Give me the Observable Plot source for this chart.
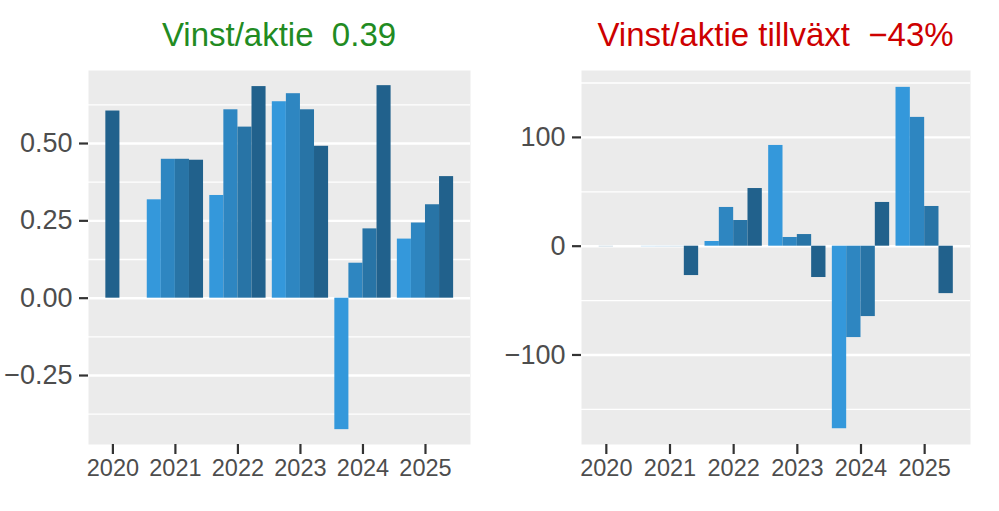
<!DOCTYPE html>
<html><head><meta charset="utf-8">
<script src="https://cdn.jsdelivr.net/npm/d3@7"></script>
<script src="https://cdn.jsdelivr.net/npm/@observablehq/plot@0.6"></script>
<style>
body{margin:0;background:#fff;font-family:"Liberation Sans",Arial,sans-serif;}
#wrap{position:relative;width:999px;height:511px;overflow:hidden;background:#fff;}
.panel{position:absolute;top:0;}
.title{position:absolute;top:18px;font-size:33px;line-height:33px;text-align:center;white-space:pre;}
</style></head><body><div id="wrap"></div>
<script>
// ---- data ----
const years    = [2020, 2021,2021,2021,2021, 2022,2022,2022,2022, 2023,2023,2023,2023, 2024,2024,2024,2024, 2025,2025,2025,2025];
const quarters = [4,    1,2,3,4,             1,2,3,4,             1,2,3,4,             1,2,3,4,             1,2,3,4];
const eps      = [0.605, 0.318,0.449,0.449,0.446, 0.332,0.609,0.553,0.684, 0.635,0.661,0.609,0.491, -0.425,0.113,0.224,0.687, 0.191,0.243,0.302,0.393];
const growth   = [0,     0,0,0,-27,               4.3,35.6,23.6,53,        92.6,8,10.7,-28.8,       -167.8,-84,-64.7,40.2,     146,118.4,36.5,-43.6];
const tickYears = [2020, 2021, 2022, 2023, 2024, 2025];
const quarterColors = ["#3498DB", "#2E86C1", "#2874A6", "#21618C"];
const epsTicks = [-0.25, 0, 0.25, 0.5];
const epsMinor = [-0.375, -0.125, 0.125, 0.375, 0.625];
const growthTicks = [-100, 0, 100];
const growthMinor = [-150, -50, 50, 150];
const titleLeft = "Vinst/aktie  0.39";
const titleRight = "Vinst/aktie tillväxt  \u221243%";

// ---- dodge within each year (preserve single bar width) ----
const groupWidth = 0.9, slot = groupWidth / 4;
const counts = d3.rollup(years, v => v.length, d => d);
const seen = new Map();
const rows = years.map((y, i) => {
  const k = seen.get(y) || 0; seen.set(y, k + 1);
  const n = counts.get(y);
  const x1 = y - n * slot / 2 + k * slot;
  return {year: y, q: quarters[i], eps: eps[i], growth: growth[i], x1, x2: x1 + slot};
});

const wrap = document.getElementById("wrap");
const font = "Liberation Sans, Arial, sans-serif";

function panel({left, width, ml, mr, key, domain, ticks, minor, fmt}) {
  const chart = Plot.plot({
    width, height: 511,
    marginLeft: ml, marginRight: mr, marginTop: 70, marginBottom: 67,
    x: {domain: [2019.61, 2025.72], axis: null},
    y: {domain, axis: null},
    color: {type: "ordinal", domain: [1, 2, 3, 4], range: quarterColors},
    style: {fontFamily: font, background: "transparent", overflow: "visible"},
    marks: [
      Plot.frame({fill: "#EBEBEB", stroke: "none"}),
      Plot.ruleY(minor, {stroke: "white", strokeWidth: 1.3}),
      Plot.ruleY(ticks, {stroke: "white", strokeWidth: 2.4}),
      Plot.rectY(rows.filter(d => d[key] !== 0), {x1: "x1", x2: "x2", y1: 0, y2: key, fill: "q"}),
      Plot.ruleY(rows.filter(d => d[key] === 0), {x1: "x1", x2: "x2", y: 0, stroke: "q", strokeOpacity: 0.18, strokeWidth: 1.2}),
      Plot.axisY(ticks, {label: null, tickFormat: fmt, tickSize: 9, tickPadding: 7, fontSize: 27, fill: "#4D4D4D", stroke: "#333333", strokeWidth: 2.2}),
      Plot.axisX(tickYears, {label: null, tickFormat: d => String(d), tickSize: 10, tickPadding: 5, fontSize: 23.5, fill: "#4D4D4D", stroke: "#333333", strokeWidth: 2.2})
    ]
  });
  chart.classList.add("panel");
  chart.style.left = left + "px";
  wrap.appendChild(chart);
}

panel({left: 0, width: 490, ml: 88, mr: 20, key: "eps", domain: [-0.473, 0.736], ticks: epsTicks, minor: epsMinor, fmt: d3.format(".2f")});
panel({left: 490, width: 509, ml: 91, mr: 29, key: "growth", domain: [-182.3, 161.5], ticks: growthTicks, minor: growthMinor, fmt: d3.format("d")});

function addTitle(text, left, width, color) {
  const t = document.createElement("div");
  t.className = "title";
  t.textContent = text;
  t.style.left = left + "px";
  t.style.width = width + "px";
  t.style.color = color;
  wrap.appendChild(t);
}
addTitle(titleLeft, 88, 382, "#228B22");
addTitle(titleRight, 581, 389, "#CD0000");
</script></body></html>
